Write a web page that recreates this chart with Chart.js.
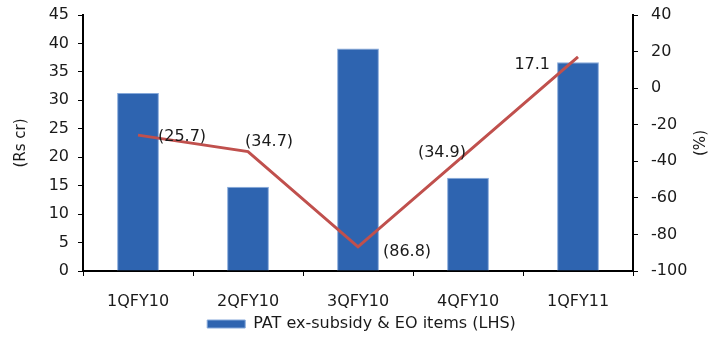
<!DOCTYPE html>
<html>
<head>
<meta charset="utf-8">
<script src="https://cdn.jsdelivr.net/npm/chart.js@4.4.1/dist/chart.umd.min.js"></script>
<style>
  html, body { margin: 0; padding: 0; background: #fff; }
  #wrap { width: 723px; height: 338px; position: relative; }
</style>
</head>
<body>
<div id="wrap"><canvas id="c" width="723" height="338"></canvas></div>
<script>
// Quarterly PAT (Rs cr) and its YoY growth (%)
const quarters = ['1QFY10', '2QFY10', '3QFY10', '4QFY10', '1QFY11'];
const patValues = [31.3, 14.8, 39.1, 16.4, 36.7];
const growthValues = [-25.7, -34.7, -86.8, -34.9, 17.1];
const leftTicks = { min: 0, max: 45, step: 5 };
const rightTicks = { min: -100, max: 40, step: 20 };

// where each growth label sits relative to its point
const labelPlacement = [
  { dx: 20, dy: 2, align: 'left' },
  { dx: -3, dy: -10, align: 'left' },
  { dx: 25, dy: 5, align: 'left' },
  { dx: -2, dy: 1, align: 'right' },
  { dx: -28, dy: 8, align: 'right' }
];

const FONT = 'DejaVu Sans';
const TEXT = '#1a1a1a';

function fmtGrowth(v) {
  const s = Math.abs(v).toFixed(1);
  return v < 0 ? '(' + s + ')' : s;
}

const growthLabels = {
  id: 'growthLabels',
  afterDatasetsDraw(chart) {
    const meta = chart.getDatasetMeta(1);
    const ctx = chart.ctx;
    ctx.save();
    ctx.font = '16px "' + FONT + '"';
    ctx.fillStyle = TEXT;
    ctx.textBaseline = 'middle';
    meta.data.forEach((pt, i) => {
      const p = labelPlacement[i];
      ctx.textAlign = p.align;
      ctx.fillText(fmtGrowth(growthValues[i]), pt.x + p.dx, pt.y + p.dy);
    });
    ctx.restore();
  }
};

// right-hand axis title, read bottom-to-top like the left one
const rightTitle = {
  id: 'rightTitle',
  afterDraw(chart) {
    const ctx = chart.ctx;
    const area = chart.chartArea;
    ctx.save();
    ctx.font = '15px "' + FONT + '"';
    ctx.fillStyle = TEXT;
    ctx.textAlign = 'center';
    ctx.textBaseline = 'middle';
    ctx.translate(701, (area.top + area.bottom) / 2);
    ctx.rotate(-Math.PI / 2);
    ctx.fillText('(%)', 0, 0);
    ctx.restore();
  }
};

// vertical axes: fixed width, no extra end padding
function fixVertical(width) {
  return s => { s.width = width; s.paddingTop = 0; s.paddingBottom = 0; };
}

new Chart(document.getElementById('c'), {
  data: {
    labels: quarters,
    datasets: [
      {
        type: 'bar',
        label: 'PAT ex-subsidy & EO items (LHS)',
        data: patValues,
        yAxisID: 'y',
        backgroundColor: '#2E64B0',
        borderColor: '#86A9DA',
        borderWidth: 1,
        categoryPercentage: 1,
        barPercentage: 0.38,
        order: 2
      },
      {
        type: 'line',
        label: 'Growth (RHS)',
        data: growthValues,
        yAxisID: 'y2',
        borderColor: '#C0504D',
        borderWidth: 3,
        pointRadius: 0,
        tension: 0,
        fill: false,
        order: 1
      }
    ]
  },
  options: {
    responsive: false,
    animation: false,
    devicePixelRatio: 1,
    layout: { padding: { top: 15, left: 0, right: 0, bottom: -4 } },
    plugins: {
      tooltip: { enabled: false },
      legend: {
        position: 'bottom',
        labels: {
          filter: item => item.datasetIndex === 0,
          boxWidth: 38,
          boxHeight: 8,
          padding: 2,
          color: TEXT,
          font: { family: FONT, size: 16 }
        }
      }
    },
    scales: {
      x: {
        offset: true,
        grid: { display: true, drawOnChartArea: false, drawTicks: true, tickLength: 5, tickColor: '#000', offset: true },
        border: { color: '#000', width: 2 },
        ticks: { color: TEXT, padding: 16, font: { family: FONT, size: 16 }, maxRotation: 0 },
        afterFit(s) { s.height = 43; s.paddingLeft = 0; s.paddingRight = 0; }
      },
      y: {
        position: 'left',
        min: leftTicks.min,
        max: leftTicks.max,
        ticks: { stepSize: leftTicks.step, color: TEXT, padding: 9, font: { family: FONT, size: 16 } },
        grid: { drawOnChartArea: false, drawTicks: true, tickLength: 5, tickColor: '#000' },
        border: { color: '#000', width: 2 },
        title: { display: true, text: '(Rs cr)', color: TEXT, font: { family: FONT, size: 15 }, padding: { top: 12, bottom: 0 } },
        afterFit: fixVertical(83)
      },
      y2: {
        position: 'right',
        min: rightTicks.min,
        max: rightTicks.max,
        ticks: { stepSize: rightTicks.step, color: TEXT, padding: 13, font: { family: FONT, size: 16 } },
        grid: { drawOnChartArea: false, drawTicks: true, tickLength: 5, tickColor: '#000' },
        border: { color: '#000', width: 2 },
        afterFit: fixVertical(90)
      }
    }
  },
  plugins: [growthLabels, rightTitle]
});
</script>
</body>
</html>
